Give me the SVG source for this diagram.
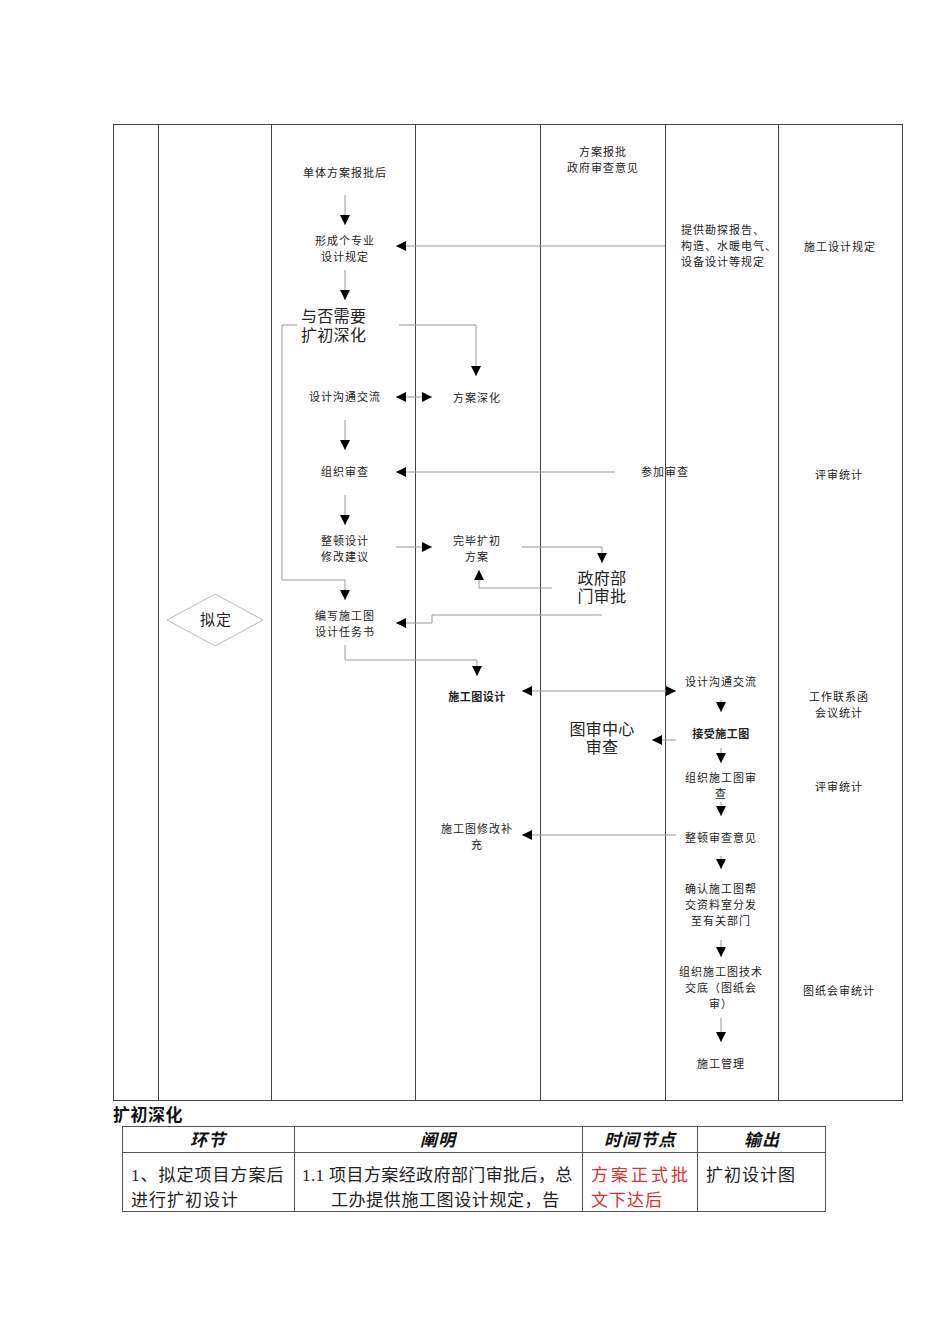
<svg xmlns="http://www.w3.org/2000/svg" width="950" height="1344" viewBox="0 0 950 1344">
<style>
.t{font-family:"Liberation Serif","Noto Sans CJK SC",serif;font-size:11px;fill:#222;text-anchor:middle;letter-spacing:1px}
.l{text-anchor:start}
.b{font-weight:bold;letter-spacing:0.5px}
.big{font-size:16px;letter-spacing:0.3px}
.c{fill:none;stroke:#999;stroke-width:1}
.lane{stroke:#444;stroke-width:1;fill:none}
.tb{font-family:"Liberation Serif","Noto Sans CJK SC",serif;font-size:17px;fill:#222;letter-spacing:1px}
.th{font-family:"Liberation Sans","Noto Sans CJK SC",sans-serif;font-size:17px;font-style:italic;font-weight:bold;text-anchor:middle;fill:#111;letter-spacing:1px}
</style>
<defs>
<marker id="a" markerWidth="10" markerHeight="10" refX="10" refY="5" orient="auto" markerUnits="userSpaceOnUse"><path d="M0,0 L10,5 L0,10 Z" fill="#000"/></marker>
<marker id="s" markerWidth="10" markerHeight="10" refX="0" refY="5" orient="auto" markerUnits="userSpaceOnUse"><path d="M10,0 L0,5 L10,10 Z" fill="#000"/></marker>
</defs>
<rect width="950" height="1344" fill="#fff"/>
<g id="lanes">
<rect class="lane" x="113.5" y="124.5" width="789" height="976"/>
<line class="lane" x1="158.5" y1="124" x2="158.5" y2="1100"/>
<line class="lane" x1="271.5" y1="124" x2="271.5" y2="1100"/>
<line class="lane" x1="415.5" y1="124" x2="415.5" y2="1100"/>
<line class="lane" x1="540.5" y1="124" x2="540.5" y2="1100"/>
<line class="lane" x1="665.5" y1="124" x2="665.5" y2="1100"/>
<line class="lane" x1="778.5" y1="124" x2="778.5" y2="1100"/>
</g>
<g id="connectors">
<path class="c" d="M345,195 V225" marker-end="url(#a)"/>
<path class="c" d="M665,246 H396" marker-end="url(#a)"/>
<path class="c" d="M345,270 V300" marker-end="url(#a)"/>
<path class="c" d="M399,325 H476 V376" marker-end="url(#a)"/>
<path class="c" d="M297,325 H282 V580 H345 V600" marker-end="url(#a)"/>
<path class="c" d="M396,397 H432" marker-start="url(#s)" marker-end="url(#a)"/>
<path class="c" d="M345,420 V450" marker-end="url(#a)"/>
<path class="c" d="M615,472 H396" marker-end="url(#a)"/>
<path class="c" d="M345,495 V525" marker-end="url(#a)"/>
<path class="c" d="M396,547 H432" marker-end="url(#a)"/>
<path class="c" d="M522,547 H602 V563" marker-end="url(#a)"/>
<path class="c" d="M552,588 H479 V570" marker-end="url(#a)"/>
<path class="c" d="M602,615 H432 V623 H396" marker-end="url(#a)"/>
<path class="c" d="M345,645 V660 H477 V676" marker-end="url(#a)"/>
<path class="c" d="M522,691 H676" marker-start="url(#s)" marker-end="url(#a)"/>
<path class="c" d="M721,700 V712" marker-end="url(#a)"/>
<path class="c" d="M676,740 H652" marker-end="url(#a)"/>
<path class="c" d="M721,748 V763" marker-end="url(#a)"/>
<path class="c" d="M721,802 V816" marker-end="url(#a)"/>
<path class="c" d="M676,835 H522" marker-end="url(#a)"/>
<path class="c" d="M721,856 V869" marker-end="url(#a)"/>
<path class="c" d="M721,940 V957" marker-end="url(#a)"/>
<path class="c" d="M721,1018 V1042" marker-end="url(#a)"/>
</g>
<g id="n-start"><text class="t" x="345" y="177">单体方案报批后</text></g>
<g id="n-gov-opinion"><text class="t" x="603" y="156">方案报批</text><text class="t" x="603" y="172">政府审查意见</text></g>
<g id="n-provide"><text class="t l" x="681" y="234">提供勘探报告、</text><text class="t l" x="681" y="250">构造、水暖电气、</text><text class="t l" x="681" y="266">设备设计等规定</text></g>
<g id="n-rule-out"><text class="t" x="840" y="251">施工设计规定</text></g>
<g id="n-form"><text class="t" x="345" y="245">形成个专业</text><text class="t" x="345" y="261">设计规定</text></g>
<g id="n-decide"><text class="t big l" x="301" y="322">与否需要</text><text class="t big l" x="301" y="341">扩初深化</text></g>
<g id="n-comm1"><text class="t" x="345" y="401">设计沟通交流</text></g>
<g id="n-deepen"><text class="t" x="477" y="402">方案深化</text></g>
<g id="n-review"><text class="t" x="345" y="476">组织审查</text></g>
<g id="n-join"><text class="t" x="665" y="476">参加审查</text></g>
<g id="n-stat1"><text class="t" x="839" y="479">评审统计</text></g>
<g id="n-fix"><text class="t" x="345" y="545">整顿设计</text><text class="t" x="345" y="561">修改建议</text></g>
<g id="n-finish"><text class="t" x="477" y="545">完毕扩初</text><text class="t" x="477" y="561">方案</text></g>
<g id="n-gov"><text class="t big" x="602" y="584">政府部</text><text class="t big" x="602" y="602">门审批</text></g>
<g id="n-plan"><polygon points="167,620 215,594 263,620 215,646" fill="none" stroke="#bbb" stroke-width="1"/><text class="t" x="216" y="625" style="font-size:15px">拟定</text></g>
<g id="n-task"><text class="t" x="345" y="620">编写施工图</text><text class="t" x="345" y="636">设计任务书</text></g>
<g id="n-cdesign"><text class="t b" x="477" y="701">施工图设计</text></g>
<g id="n-comm2"><text class="t" x="721" y="686">设计沟通交流</text></g>
<g id="n-stat2"><text class="t" x="839" y="701">工作联系函</text><text class="t" x="839" y="717">会议统计</text></g>
<g id="n-center"><text class="t big" x="602" y="735">图审中心</text><text class="t big" x="602" y="753">审查</text></g>
<g id="n-accept"><text class="t b" x="721" y="738">接受施工图</text></g>
<g id="n-orgrev"><text class="t" x="721" y="782">组织施工图审</text><text class="t" x="721" y="798">查</text></g>
<g id="n-stat3"><text class="t" x="839" y="791">评审统计</text></g>
<g id="n-fixop"><text class="t" x="721" y="842">整顿审查意见</text></g>
<g id="n-modify"><text class="t" x="477" y="833">施工图修改补</text><text class="t" x="477" y="849">充</text></g>
<g id="n-confirm"><text class="t" x="721" y="893">确认施工图帮</text><text class="t" x="721" y="909">交资料室分发</text><text class="t" x="721" y="925">至有关部门</text></g>
<g id="n-tech"><text class="t" x="721" y="976">组织施工图技术</text><text class="t" x="721" y="992">交底（图纸会</text><text class="t" x="721" y="1008">审）</text></g>
<g id="n-stat4"><text class="t" x="839" y="995">图纸会审统计</text></g>
<g id="n-manage"><text class="t" x="721" y="1068">施工管理</text></g>
<g id="title"><text x="113" y="1121" style="font-family:'Liberation Sans','Noto Sans CJK SC',sans-serif;font-size:17px;font-weight:bold;fill:#111;letter-spacing:0.5px">扩初深化</text></g>
<g id="table">
<rect x="122.5" y="1126.5" width="703" height="85" fill="none" stroke="#555" stroke-width="1"/>
<line x1="122" y1="1152.5" x2="826" y2="1152.5" stroke="#555"/>
<line x1="294.5" y1="1126" x2="294.5" y2="1212" stroke="#555"/>
<line x1="582.5" y1="1126" x2="582.5" y2="1212" stroke="#555"/>
<line x1="697.5" y1="1126" x2="697.5" y2="1212" stroke="#555"/>
<text class="th" x="208" y="1146">环节</text>
<text class="th" x="438" y="1146">阐明</text>
<text class="th" x="640" y="1146">时间节点</text>
<text class="th" x="762" y="1146">输出</text>
<text class="tb" x="131" y="1181">1、拟定项目方案后</text>
<text class="tb" x="131" y="1206">进行扩初设计</text>
<text class="tb" x="302" y="1181" style="letter-spacing:0.4px">1.1 项目方案经政府部门审批后，总</text>
<text class="tb" x="331" y="1206" style="letter-spacing:0.6px">工办提供施工图设计规定，告</text>
<text class="tb" x="591" y="1181" style="fill:#e03030;letter-spacing:3px">方案正式批</text>
<text class="tb" x="591" y="1206" style="fill:#e03030">文下达后</text>
<text class="tb" x="706" y="1181">扩初设计图</text>
</g>
</svg>
